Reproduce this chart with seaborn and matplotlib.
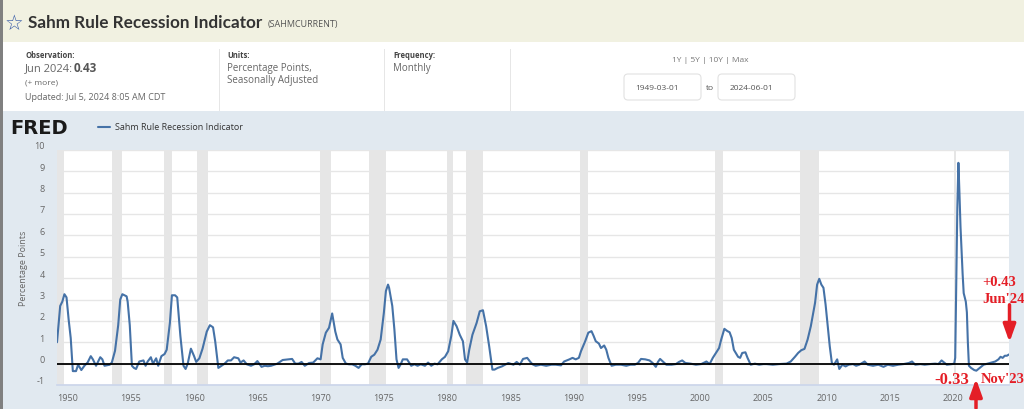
import pandas as pd
import matplotlib.pyplot as plt
import matplotlib.transforms as mtransforms
from matplotlib.patches import Rectangle, FancyBboxPatch, FancyArrowPatch
from matplotlib.lines import Line2D
import seaborn as sns

# values (SAHMCURRENT, percentage points)
dates = [
    "1949-03", "1949-06", "1949-08", "1949-10", "1949-12", "1950-02", "1950-04", "1950-06",
    "1950-09", "1950-11", "1951-02", "1951-05", "1951-08", "1951-11", "1952-01", "1952-04",
    "1952-08", "1952-10", "1952-12", "1953-05", "1953-07", "1953-10", "1954-01", "1954-03",
    "1954-05", "1954-09", "1954-10", "1954-12", "1955-02", "1955-04", "1955-06", "1955-09",
    "1956-01", "1956-03", "1956-05", "1956-08", "1956-10", "1957-01", "1957-03", "1957-06",
    "1957-09", "1957-11", "1958-02", "1958-04", "1958-07", "1958-09", "1958-12", "1959-03",
    "1959-05", "1959-07", "1959-10", "1960-01", "1960-03", "1960-06", "1960-09", "1961-01",
    "1961-04", "1961-07", "1961-09", "1961-12", "1962-03", "1962-06", "1962-09", "1962-12",
    "1963-03", "1963-07", "1963-09", "1963-12", "1964-03", "1964-07", "1964-10", "1965-01",
    "1965-05", "1965-08", "1965-11", "1966-02", "1966-05", "1966-08", "1967-01", "1967-06",
    "1967-10", "1968-01", "1968-04", "1968-07", "1968-10", "1969-02", "1969-06", "1969-10",
    "1970-01", "1970-03", "1970-06", "1970-09", "1970-12", "1971-03", "1971-05", "1971-08",
    "1971-10", "1972-01", "1972-04", "1972-07", "1972-10", "1973-01", "1973-04", "1973-07",
    "1973-10", "1974-01", "1974-04", "1974-07", "1974-10", "1975-01", "1975-03", "1975-05",
    "1975-06", "1975-09", "1975-11", "1976-01", "1976-03", "1976-05", "1976-07", "1976-11",
    "1977-03", "1977-06", "1977-09", "1977-12", "1978-04", "1978-07", "1978-10", "1979-01",
    "1979-04", "1979-08", "1979-11", "1980-02", "1980-05", "1980-07", "1980-10", "1981-01",
    "1981-04", "1981-06", "1981-08", "1981-10", "1982-01", "1982-05", "1982-08", "1982-11",
    "1983-02", "1983-05", "1983-08", "1983-10", "1984-01", "1984-05", "1984-08", "1984-11",
    "1985-04", "1985-07", "1985-10", "1986-01", "1986-05", "1986-08", "1986-10", "1987-01",
    "1987-06", "1987-11", "1988-04", "1988-08", "1989-01", "1989-04", "1989-09", "1989-12",
    "1990-03", "1990-06", "1990-08", "1990-12", "1991-03", "1991-06", "1991-08", "1991-10",
    "1992-01", "1992-03", "1992-06", "1992-08", "1992-10", "1993-01", "1993-05", "1993-10",
    "1994-03", "1994-07", "1994-11", "1995-02", "1995-05", "1995-09", "1996-01", "1996-04",
    "1996-07", "1996-09", "1996-11", "1997-02", "1997-05", "1997-10", "1998-02", "1998-05",
    "1998-08", "1998-11", "1999-04", "1999-09", "2000-02", "2000-07", "2000-10", "2001-01",
    "2001-04", "2001-07", "2001-09", "2001-12", "2002-03", "2002-05", "2002-07", "2002-09",
    "2003-01", "2003-03", "2003-05", "2003-08", "2003-10", "2004-01", "2004-05", "2004-09",
    "2005-01", "2005-04", "2005-10", "2006-04", "2006-11", "2007-03", "2007-07", "2007-10",
    "2008-01", "2008-04", "2008-07", "2008-10", "2009-02", "2009-04", "2009-06", "2009-08",
    "2009-10", "2009-12", "2010-02", "2010-04", "2010-06", "2010-08", "2010-11", "2011-01",
    "2011-04", "2011-07", "2011-10", "2012-02", "2012-05", "2012-08", "2013-01", "2013-04",
    "2013-09", "2014-02", "2014-07", "2014-11", "2015-04", "2015-09", "2016-02", "2016-07",
    "2016-10", "2017-01", "2017-06", "2017-10", "2018-03", "2018-08", "2018-11", "2019-02",
    "2019-04", "2019-07", "2019-12", "2020-02", "2020-03", "2020-04", "2020-05", "2020-06",
    "2020-07", "2020-08", "2020-09", "2020-10", "2020-11", "2020-12", "2021-01", "2021-02",
    "2021-03", "2021-04", "2021-06", "2021-09", "2021-11", "2022-01", "2022-06", "2022-12",
    "2023-05", "2023-08", "2023-10", "2023-12", "2024-02", "2024-04", "2024-06",
]
values = [
    1.0, 2.7, 2.9, 3.25, 3.1, 2.05, 1.2, -0.35,
    -0.35, -0.05, -0.3, -0.1, 0.05, 0.35, 0.2, -0.1,
    0.3, 0.2, -0.1, -0.05, 0.05, 0.6, 1.8, 3.0,
    3.25, 3.15, 2.9, 1.8, -0.1, -0.2, -0.25, 0.1,
    0.15, -0.1, 0.1, 0.3, 0.0, 0.25, -0.1, 0.35,
    0.45, 0.65, 1.9, 3.2, 3.2, 3.1, 1.3, -0.1,
    -0.25, 0.0, 0.7, 0.35, 0.08, 0.25, 0.7, 1.5,
    1.8, 1.7, 1.05, -0.2, -0.1, 0.0, 0.15, 0.15,
    0.3, 0.25, 0.05, 0.15, -0.03, -0.1, -0.03, 0.12,
    -0.15, -0.1, -0.12, -0.1, -0.05, 0.0, 0.17, 0.2,
    0.22, 0.0, 0.0, 0.08, -0.1, 0.03, 0.05, 0.25,
    0.2, 0.9, 1.45, 1.68, 2.35, 1.5, 1.13, 0.9,
    0.27, 0.0, -0.03, -0.03, -0.1, -0.2, -0.03, -0.03,
    0.0, 0.32, 0.42, 0.65, 1.13, 2.38, 3.4, 3.7,
    3.55, 2.7, 1.6, 0.2, -0.2, -0.03, 0.2, 0.2,
    -0.1, -0.03, -0.1, -0.03, -0.1, 0.05, -0.1, 0.0,
    -0.03, 0.2, 0.32, 0.58, 1.3, 2.0, 1.75, 1.35,
    1.05, 0.2, 0.05, 0.65, 1.35, 1.9, 2.45, 2.5,
    1.75, 0.8, -0.28, -0.28, -0.2, -0.13, -0.05, 0.03,
    -0.05, 0.08, -0.05, 0.22, 0.27, 0.08, -0.03, -0.1,
    -0.05, -0.1, -0.05, -0.05, -0.08, 0.1, 0.2, 0.27,
    0.2, 0.27, 0.58, 1.05, 1.45, 1.52, 1.3, 1.05,
    0.94, 0.73, 0.85, 0.65, 0.27, -0.1, -0.05, -0.05,
    -0.1, -0.05, -0.05, 0.03, 0.22, 0.2, 0.15, 0.03,
    -0.15, 0.08, 0.22, 0.08, -0.05, -0.05, -0.02, 0.08,
    0.15, 0.03, 0.0, -0.05, -0.02, 0.1, -0.02, 0.27,
    0.5, 0.73, 1.13, 1.63, 1.52, 1.47, 1.2, 0.65,
    0.32, 0.27, 0.5, 0.53, 0.27, -0.05, 0.0, -0.05,
    -0.02, -0.02, -0.05, -0.02, 0.0, 0.1, 0.32, 0.5,
    0.63, 0.69, 1.13, 1.75, 2.85, 3.7, 3.97, 3.7,
    3.55, 2.77, 1.75, 0.81, 0.03, -0.05, 0.2, -0.25,
    -0.05, -0.13, -0.05, -0.02, -0.1, -0.05, 0.1, -0.05,
    -0.1, -0.05, -0.15, -0.05, -0.1, -0.05, -0.02, 0.03,
    0.1, -0.05, -0.02, -0.05, -0.02, 0.0, -0.02, 0.15,
    0.07, -0.05, -0.02, 0.0, 0.27, 4.0, 7.3, 9.4,
    8.0, 6.4, 5.3, 4.2, 3.3, 3.1, 2.9, 2.4,
    1.0, -0.1, -0.2, -0.3, -0.33, -0.25, -0.05, 0.03,
    0.1, 0.2, 0.32, 0.27, 0.37, 0.37, 0.43,
]

# NBER recessions as shaded on FRED
recession_starts = ["1949-03-01", "1953-07-01", "1957-08-01", "1960-04-01", "1969-12-01", "1973-11-01",
                    "1980-01-01", "1981-07-01", "1990-07-01", "2001-03-01", "2007-12-01", "2020-02-01"]
recession_ends = ["1949-10-01", "1954-05-01", "1958-04-01", "1961-02-01", "1970-11-01", "1975-03-01",
                  "1980-07-01", "1982-11-01", "1991-03-01", "2001-11-01", "2009-06-01", "2020-04-01"]

year_ticks = list(range(1950, 2021, 5))
y_ticks = list(range(-1, 11))

df = pd.DataFrame({"date": pd.to_datetime(dates), "value": values})

sns.set_theme(style="white")
plt.rcParams['font.family'] = ['Open Sans', 'DejaVu Sans']

fig = plt.figure(figsize=(10.24, 4.10), dpi=100)
fig.patch.set_facecolor("#e1e9f0")
# pixel coordinates, origin top-left
pix = mtransforms.Affine2D().scale(1 / 1024, -1 / 410).translate(0, 1) + fig.transFigure

# page bands
fig.add_artist(Rectangle((0, 0), 1024, 43, transform=pix, color="#f1f1e1", lw=0))
fig.add_artist(Rectangle((0, 43), 1024, 69, transform=pix, color="white", lw=0))
fig.add_artist(Rectangle((0, 0), 3, 410, transform=pix, color="#808080", lw=0))
for sx in (219, 384, 510):
    fig.add_artist(Rectangle((sx, 50), 1, 62, transform=pix, color="#e6e6e6", lw=0))

# header
fig.text(14, 24, "\u2606", transform=pix, ha="center", va="center", fontsize=15,
         color="#3b5ea8", family="DejaVu Sans")
fig.text(28, 23, "Sahm Rule Recession Indicator", transform=pix, va="center",
         fontsize=12.3, fontweight="bold", color="#333333", family="Lato")
fig.text(268, 25, "(SAHMCURRENT)", transform=pix, va="center", fontsize=6.5, color="#555555")

fig.text(25, 56, "Observation:", transform=pix, va="center", fontsize=5.5, fontweight="bold", color="#444444")
fig.text(25, 69, "Jun 2024:", transform=pix, va="center", fontsize=8, color="#666666")
fig.text(74, 69, "0.43", transform=pix, va="center", fontsize=8.5, fontweight="bold", color="#555555")
fig.text(25, 83, "(+ more)", transform=pix, va="center", fontsize=6, color="#666666")
fig.text(25, 97, "Updated: Jul 5, 2024 8:05 AM CDT", transform=pix, va="center", fontsize=6.5, color="#666666")
fig.text(227, 56, "Units:", transform=pix, va="center", fontsize=5.5, fontweight="bold", color="#444444")
fig.text(227, 68, "Percentage Points,", transform=pix, va="center", fontsize=7, color="#666666")
fig.text(227, 81, "Seasonally Adjusted", transform=pix, va="center", fontsize=7, color="#666666")
fig.text(393, 56, "Frequency:", transform=pix, va="center", fontsize=5.5, fontweight="bold", color="#444444")
fig.text(393, 68, "Monthly", transform=pix, va="center", fontsize=7, color="#666666")

fig.text(710, 61, "1Y | 5Y | 10Y | Max", transform=pix, ha="center", va="center", fontsize=6, color="#777777")
for bx, label in ((624, "1949-03-01"), (718, "2024-06-01")):
    fig.add_artist(FancyBboxPatch((bx, 75), 77, 26, boxstyle="round,pad=0,rounding_size=4",
                                  transform=pix, facecolor="white", edgecolor="#e2e2e2", lw=0.8))
    fig.text(bx + 33, 88, label, transform=pix, ha="center", va="center", fontsize=6, color="#555555")
fig.text(710, 88, "to", transform=pix, ha="center", va="center", fontsize=6, color="#555555")

# FRED strip
fig.text(10, 128, "FRED", transform=pix, va="center", fontsize=14, fontweight="heavy",
         color="#1a1a1a", family="DejaVu Sans")
fig.add_artist(Line2D([98, 110], [128, 128], transform=pix, color="#4572a7", lw=1.5))
fig.text(115, 128, "Sahm Rule Recession Indicator", transform=pix, va="center", fontsize=6.5, color="#333333")

# chart
ax = fig.add_axes([57 / 1024, 24 / 410, 952 / 1024, 235 / 410])
ax.set_facecolor("white")
for s, e in zip(recession_starts, recession_ends):
    ax.axvspan(pd.Timestamp(s), pd.Timestamp(e), color="#e6e6e6", lw=0, zorder=1)
sns.lineplot(data=df, x="date", y="value", ax=ax, color="#4572a7", lw=1.5, zorder=3)
ax.axhline(0, color="black", lw=1.3, zorder=4)

ax.set_xlim(pd.Timestamp("1949-03-01"), pd.Timestamp("2024-06-01"))
ax.set_ylim(-1, 10)
ax.set_yticks(y_ticks)
ax.set_yticklabels([])
ax.yaxis.grid(True, color="#e6e6e6", lw=1)
ax.set_axisbelow(True)
ax.tick_params(axis="y", length=0)
for v in y_ticks:
    ax.annotate(str(v), xy=(0, v), xycoords=ax.get_yaxis_transform(), xytext=(-9, 3),
                textcoords="offset points", ha="right", va="center", fontsize=6.5, color="#666666")

ax.set_xticks([pd.Timestamp(f"{y}-01-01") for y in year_ticks])
ax.set_xticklabels([str(y) for y in year_ticks])
ax.tick_params(axis="x", length=4, color="#ccd6eb", pad=1.5, labelsize=6.5, labelcolor="#666666")
ax.set_xlabel("")
ax.set_ylabel("")
for side in ("left", "right", "top"):
    ax.spines[side].set_visible(False)
ax.spines["bottom"].set_color("#ccd6eb")
fig.text(24, 268, "Percentage Points", transform=pix, rotation=90, ha="center", va="center",
         fontsize=6.5, color="#666666")

# red annotations
red = "#e41e26"
fig.text(999, 283, "+0.43", transform=pix, ha="center", va="center", fontsize=10.5,
         fontweight="bold", color=red, family="Liberation Serif")
fig.text(1004, 300, "Jun'24", transform=pix, ha="center", va="center", fontsize=10.5,
         fontweight="bold", color=red, family="Liberation Serif")
fig.text(952, 380, "-0.33", transform=pix, ha="center", va="center", fontsize=12,
         fontweight="bold", color=red, family="Liberation Serif")
fig.text(1003, 380, "Nov'23", transform=pix, ha="center", va="center", fontsize=10.5,
         fontweight="bold", color=red, family="Liberation Serif")
fig.add_artist(FancyArrowPatch((1009.5, 303), (1009.5, 346), transform=pix, color=red, lw=2.5,
                               arrowstyle="-|>,head_length=0.7,head_width=0.25", mutation_scale=15))
fig.add_artist(FancyArrowPatch((976, 412), (976, 377), transform=pix, color=red, lw=2.5,
                               arrowstyle="-|>,head_length=0.7,head_width=0.25", mutation_scale=15))

fig.savefig("out.png", dpi=100, facecolor=fig.get_facecolor())
